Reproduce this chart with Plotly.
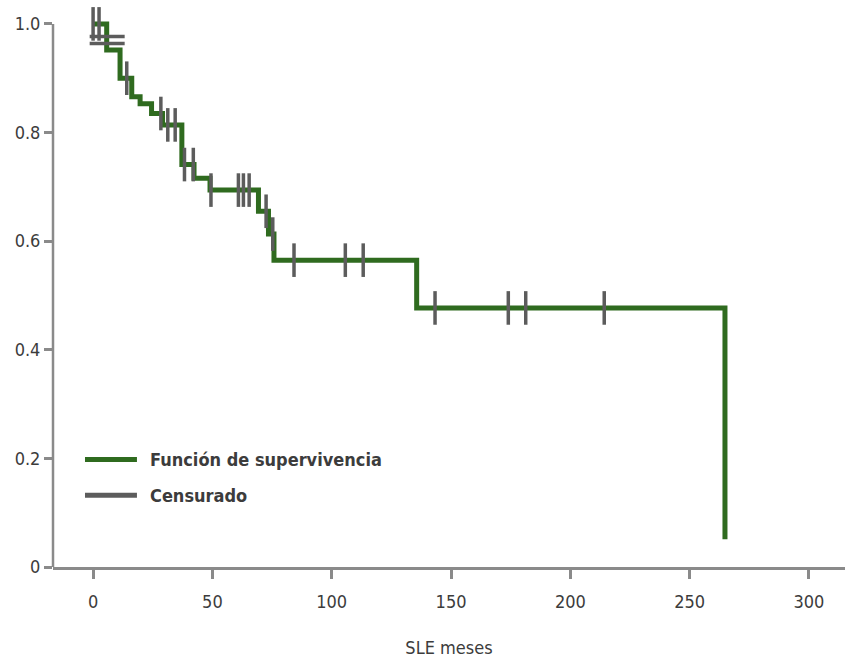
import numpy as np
import plotly.graph_objects as go

# --- Data ---
event_times = [0, 5.7, 11.3, 16.2, 19.7, 24.5, 29.1, 37.2, 42.3, 49.0, 69.3, 73.5, 75.8, 135.6, 264.8]
survival = [1.0, 0.952, 0.900, 0.866, 0.853, 0.835, 0.814, 0.741, 0.716, 0.694, 0.655, 0.613, 0.565, 0.477, 0.051]

censor_times = [0, 2.5, 14.1, 28.4, 31.3, 34.4, 38.3, 42.0, 49.4, 60.9, 63.0, 65.4,
                72.5, 75.3, 84.2, 105.7, 113.2, 143.3, 174.0, 181.3, 214.2]
# two horizontal censor marks drawn on the first drop
censor_h_times = [5.9, 5.9]
censor_h_surv = [0.977, 0.964]

x_ticks = [0, 50, 100, 150, 200, 250, 300]
y_ticks = [0, 0.2, 0.4, 0.6, 0.8, 1.0]
y_tick_labels = ["0", "0.2", "0.4", "0.6", "0.8", "1.0"]

legend_labels = ["Función de supervivencia", "Censurado"]
x_title = "SLE meses"

GREEN = "#2f6b1f"
GRAY = "#5c5c5c"
AXIS = "#8a8a8a"
TEXT = "#3c3c3c"
FONT = "Liberation Sans Narrow, DejaVu Sans Condensed, Roboto Condensed, Arial Narrow, sans-serif"

# survival at each censor time (step lookup)
et = np.array(event_times)
sv = np.array(survival)
idx = np.searchsorted(et, np.array(censor_times), side="right") - 1
censor_surv = sv[np.clip(idx, 0, len(sv) - 1)]

fig = go.Figure()
fig.add_trace(go.Scatter(
    x=event_times, y=survival, mode="lines", line_shape="hv",
    line=dict(color=GREEN, width=5), showlegend=False, hoverinfo="skip",
))
fig.add_trace(go.Scatter(
    x=censor_times, y=censor_surv, mode="markers",
    marker=dict(symbol="line-ns", size=24, line=dict(color=GRAY, width=3.5)),
    showlegend=False, hoverinfo="skip",
))
fig.add_trace(go.Scatter(
    x=censor_h_times, y=censor_h_surv, mode="markers",
    marker=dict(symbol="line-ew", size=25, line=dict(color=GRAY, width=3.5)),
    showlegend=False, hoverinfo="skip",
))

# y axis line from 0 to 1.0
fig.add_shape(type="line", xref="paper", yref="y", x0=0, x1=0, y0=0, y1=1.0,
              line=dict(color=AXIS, width=2.5))

# manual legend
leg_y = [0.1894, 0.1265]
leg_colors = [GREEN, GRAY]
for lab, yy, col in zip(legend_labels, leg_y, leg_colors):
    fig.add_shape(type="line", xref="paper", yref="paper", x0=0.0404, x1=0.106, y0=yy, y1=yy,
                  line=dict(color=col, width=5))
    fig.add_annotation(xref="paper", yref="paper", x=0.12, y=yy, text="<b>%s</b>" % lab,
                       showarrow=False, xanchor="left", yanchor="middle",
                       font=dict(family=FONT, size=18, color=TEXT))

fig.update_layout(
    width=845, height=661,
    margin=dict(l=53, r=0, t=0, b=94),
    paper_bgcolor="white", plot_bgcolor="white",
    font=dict(family=FONT, size=18, color=TEXT),
    xaxis=dict(
        range=[-16.8, 315.1], tickvals=x_ticks, ticks="outside", ticklen=9, tickwidth=2.5,
        tickcolor=AXIS, showline=True, linecolor=AXIS, linewidth=2.5, showgrid=False,
        zeroline=False, tickfont=dict(size=18, color=TEXT), ticklabelstandoff=8,
        title=dict(text=x_title, font=dict(size=18, color=TEXT), standoff=31),
    ),
    yaxis=dict(
        range=[0, 1.044], tickvals=y_ticks, ticktext=y_tick_labels, ticks="outside",
        ticklen=8, tickwidth=2.5, tickcolor=AXIS, showline=False, showgrid=False,
        zeroline=False, tickfont=dict(size=18, color=TEXT),
    ),
)

fig.write_html("out.html", config={"displayModeBar": False},
               post_script="document.body.style.margin='0';")
